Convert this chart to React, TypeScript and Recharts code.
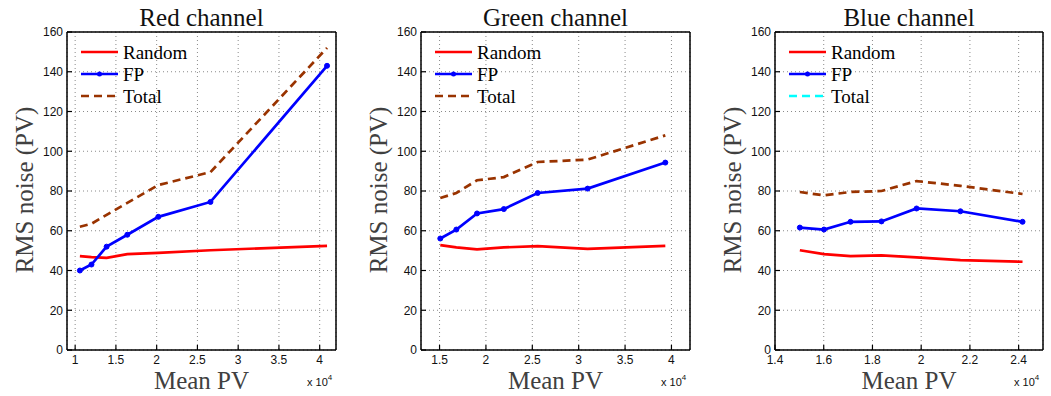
import { LineChart, Line, XAxis, YAxis, CartesianGrid, Legend } from 'recharts';

// mean pixel values (PV), one list per channel
const redMean = [10580, 12000, 13860, 16400, 20200, 26600, 40900];
const redRandom = [47.2, 46.7, 46.4, 48.2, 48.9, 50.2, 52.4];
const redFP = [40, 43, 52, 58, 67, 74.5, 143];
const redTotal = [62, 63.5, 68, 74, 83, 89.5, 152];

const greenMean = [15080, 16810, 19040, 21930, 25580, 30960, 39340];
const greenRandom = [52.8, 51.6, 50.6, 51.6, 52.3, 50.9, 52.4];
const greenFP = [56.1, 60.6, 68.7, 70.9, 79, 81.2, 94.3];
const greenTotal = [76.5, 79, 85.4, 87, 94.6, 95.8, 108];

const blueMean = [15020, 16010, 17100, 18370, 19810, 21610, 24160];
const blueRandom = [50.2, 48.2, 47.2, 47.6, 46.6, 45.2, 44.4];
const blueFP = [61.6, 60.6, 64.5, 64.7, 71.2, 69.8, 64.5];
const blueTotal = [79.5, 77.8, 79.5, 80, 85, 82.6, 78.5];

const seriesNames = ['Random', 'FP', 'Total'];
const titles = ['Red channel', 'Green channel', 'Blue channel'];
const yTicks = [0, 20, 40, 60, 80, 100, 120, 140, 160];
const redTicks = [10000, 15000, 20000, 25000, 30000, 35000, 40000];
const greenTicks = [15000, 20000, 25000, 30000, 35000, 40000];
const blueTicks = [14000, 16000, 18000, 20000, 22000, 24000];

const SERIF = '"Liberation Serif", "Times New Roman", serif';
const SANS = '"Liberation Sans", Arial, sans-serif';
const BROWN = '#993300';

const toRows = (mean: number[], random: number[], fp: number[], total: number[]) =>
  mean.map((m, i) => ({ mean: m, random: random[i], fp: fp[i], total: total[i] }));

const fmtX = (v: number) => String(v / 10000);

function LegendBox({ totalColor }: { totalColor: string }) {
  const colors = ['#ff0000', '#0000ff', totalColor];
  return (
    <svg width={140} height={68}>
      {seriesNames.map((name, i) => {
        const y = 11 + i * 22;
        return (
          <g key={name}>
            <line x1={0} x2={37} y1={y} y2={y} stroke={colors[i]} strokeWidth={2.7}
              strokeDasharray={i === 2 ? '8 5' : undefined} />
            {i === 1 && <circle cx={18.5} cy={y} r={2.5} fill={colors[i]} />}
            <text x={42} y={y + 6.5} fontFamily={SERIF} fontSize={19} fill="#000">{name}</text>
          </g>
        );
      })}
    </svg>
  );
}

interface PanelProps {
  left: number;
  width: number;
  margin: { top: number; right: number; bottom: number; left: number };
  data: { mean: number; random: number; fp: number; total: number }[];
  xDomain: [number, number];
  xTicks: number[];
  totalLegendColor: string;
}

// margin here is the plot box; the four axes take 1px each out of it
function Panel({ left, width, margin, data, xDomain, xTicks, totalLegendColor }: PanelProps) {
  const tickStyle = { fill: '#111', fontSize: 12, fontFamily: SANS };
  const axisLine = { stroke: '#000', strokeWidth: 1.5 };
  const tickLine = { stroke: '#000', strokeWidth: 1.2 };
  const m = { top: margin.top - 1, right: margin.right - 1, bottom: margin.bottom - 1, left: margin.left - 1 };
  return (
    <div style={{ position: 'absolute', left, top: 0 }}>
      <LineChart width={width} height={396} data={data} margin={m}>
        <CartesianGrid stroke="#8a8a8a" strokeDasharray="1 3" />
        <XAxis dataKey="mean" type="number" domain={xDomain} ticks={xTicks} allowDataOverflow
          interval={0} height={1} tickSize={-5} tickMargin={10.5} tickFormatter={fmtX}
          tick={tickStyle} axisLine={axisLine} tickLine={tickLine} />
        <XAxis xAxisId="top" orientation="top" dataKey="mean" type="number" domain={xDomain}
          ticks={xTicks} allowDataOverflow interval={0} height={1} tickSize={-5} tick={false}
          axisLine={axisLine} tickLine={tickLine} />
        <YAxis type="number" domain={[0, 160]} ticks={yTicks} allowDataOverflow interval={0}
          width={1} tickSize={-5} tickMargin={9} tick={tickStyle} axisLine={axisLine} tickLine={tickLine} />
        <YAxis yAxisId="right" orientation="right" type="number" domain={[0, 160]} ticks={yTicks}
          allowDataOverflow interval={0} width={1} tickSize={-5} tick={false}
          axisLine={axisLine} tickLine={tickLine} />
        <Legend layout="vertical" align="center" verticalAlign="middle"
          wrapperStyle={{ left: margin.left + 14, top: 41, width: 140 }}
          content={() => <LegendBox totalColor={totalLegendColor} />} />
        <Line dataKey="random" name="Random" stroke="#ff0000" strokeWidth={2.7} dot={false}
          activeDot={false} isAnimationActive={false} />
        <Line dataKey="fp" name="FP" stroke="#0000ff" strokeWidth={2.7}
          dot={{ r: 2.5, fill: '#0000ff', stroke: '#0000ff', strokeWidth: 1 }}
          activeDot={false} isAnimationActive={false} />
        <Line dataKey="total" name="Total" stroke={BROWN} strokeWidth={2.7} strokeDasharray="8 5"
          dot={false} activeDot={false} isAnimationActive={false} />
      </LineChart>
    </div>
  );
}

// plot boxes: [left, right] in page pixels, top 32, bottom 350
const boxes = [
  [67, 336],
  [421, 690],
  [775, 1043],
];

export default function App() {
  return (
    <div style={{ position: 'absolute', left: 0, top: 0, width: 1051, height: 396, background: '#fff' }}>
      <Panel left={0} width={350} margin={{ top: 32, right: 14, bottom: 46, left: 67 }}
        data={toRows(redMean, redRandom, redFP, redTotal)} xDomain={[9000, 42000]} xTicks={redTicks}
        totalLegendColor={BROWN} />
      <Panel left={350} width={350} margin={{ top: 32, right: 10, bottom: 46, left: 71 }}
        data={toRows(greenMean, greenRandom, greenFP, greenTotal)} xDomain={[13000, 42000]}
        xTicks={greenTicks} totalLegendColor={BROWN} />
      <Panel left={700} width={351} margin={{ top: 32, right: 8, bottom: 46, left: 75 }}
        data={toRows(blueMean, blueRandom, blueFP, blueTotal)} xDomain={[14000, 25000]}
        xTicks={blueTicks} totalLegendColor="#00ffff" />
      <svg width={1051} height={396} style={{ position: 'absolute', left: 0, top: 0, pointerEvents: 'none' }}>
        {boxes.map(([l, r], i) => {
          const cx = (l + r) / 2;
          return (
            <g key={i}>
              <text x={cx} y={26} textAnchor="middle" fontFamily={SERIF} fontSize={25} fill="#111">
                {titles[i]}
              </text>
              <text x={cx} y={389} textAnchor="middle" fontFamily={SERIF} fontSize={25} fill="#404040">
                Mean PV
              </text>
              <text x={l - 34} y={190} transform={`rotate(-90 ${l - 34} 190)`} textAnchor="middle"
                fontFamily={SERIF} fontSize={25} fill="#404040">
                RMS noise (PV)
              </text>
              <text x={r - 29} y={386} fontFamily={SANS} fontSize={11} fill="#111">
                x 10<tspan dy={-6} fontSize={8}>4</tspan>
              </text>
            </g>
          );
        })}
      </svg>
    </div>
  );
}
